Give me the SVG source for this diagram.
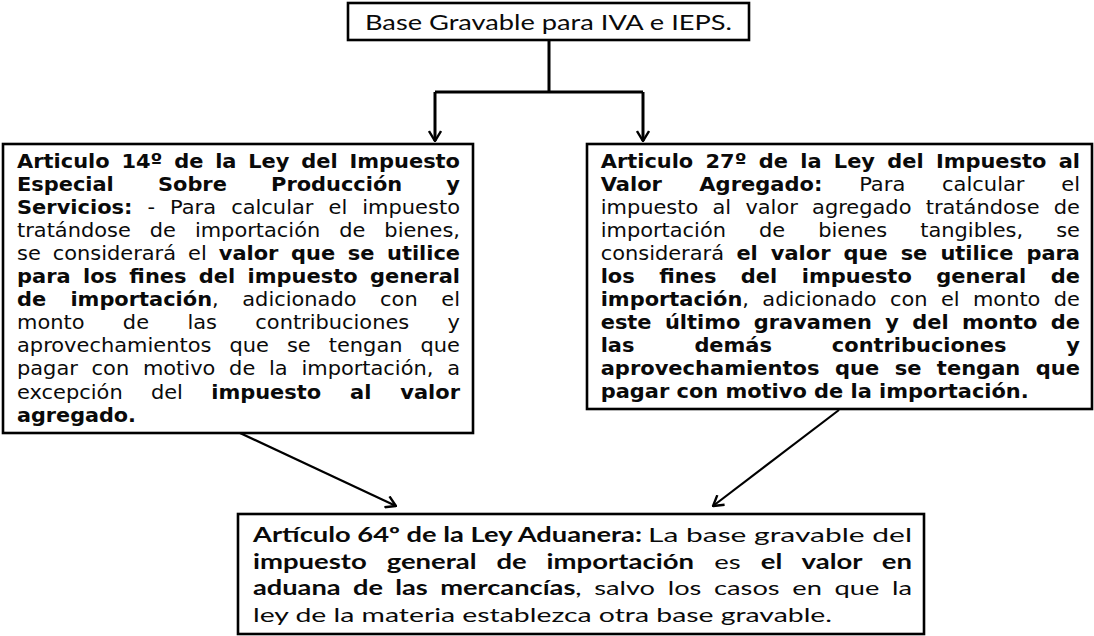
<svg xmlns="http://www.w3.org/2000/svg" width="1094" height="636" viewBox="0 0 1094 636">
<defs>
<style>
.box{fill:#fff;stroke:#000;stroke-width:2.6}
.v{font-family:"DejaVu Sans",Verdana,sans-serif;font-size:19.5px;fill:#0a0a0a}
.c{font-family:Lato,"Open Sans",sans-serif;fill:#0a0a0a}
.b{font-weight:bold}
.tree{fill:none;stroke:#000;stroke-width:3}
.diag{fill:none;stroke:#000;stroke-width:2.2}
</style>
<marker id="ah" markerUnits="userSpaceOnUse" viewBox="0 0 12 14" refX="11" refY="7" markerWidth="12" markerHeight="14" orient="auto">
<path d="M1,1 L11,7 L1,13" fill="none" stroke="#000" stroke-width="2.4"/>
</marker>
</defs>
<rect width="1094" height="636" fill="#fff"/>

<g id="connectors">
<path class="tree" d="M549,40 V92 M435,92 H643"/>
<path class="tree" d="M435,92 V141" marker-end="url(#ah)"/>
<path class="tree" d="M643,92 V141" marker-end="url(#ah)"/>
<path class="diag" d="M240,433 L396,506" marker-end="url(#ah)"/>
<path class="diag" d="M839,410 L713,506" marker-end="url(#ah)"/>
</g>

<g id="n-top">
<rect class="box" x="348" y="3" width="401" height="37"/>
<text class="c" x="365" y="29.5" font-size="21.5" textLength="367" lengthAdjust="spacingAndGlyphs">Base Gravable para IVA e IEPS.</text>
</g>

<g id="n-left">
<rect class="box" x="3" y="144" width="470" height="289"/>
<text class="v b" x="17" y="167.5" textLength="443" lengthAdjust="spacingAndGlyphs" word-spacing="4.2">Articulo 14º de la Ley del Impuesto</text>
<text class="v b" x="17" y="190.6" textLength="443" lengthAdjust="spacingAndGlyphs" word-spacing="34.4">Especial Sobre Producción y</text>
<text class="v" x="17" y="213.7" textLength="443" lengthAdjust="spacingAndGlyphs" word-spacing="7.8"><tspan class="b">Servicios:</tspan> - Para calcular el impuesto</text>
<text class="v" x="17" y="236.8" textLength="443" lengthAdjust="spacingAndGlyphs" word-spacing="11.5">tratándose de importación de bienes,</text>
<text class="v" x="17" y="259.9" textLength="443" lengthAdjust="spacingAndGlyphs" word-spacing="5">se considerará el <tspan class="b">valor que se utilice</tspan></text>
<text class="v b" x="17" y="283" textLength="443" lengthAdjust="spacingAndGlyphs" word-spacing="4.7">para los fines del impuesto general</text>
<text class="v" x="17" y="306.1" textLength="443" lengthAdjust="spacingAndGlyphs" word-spacing="15.8"><tspan class="b">de importación</tspan>, adicionado con el</text>
<text class="v" x="17" y="329.2" textLength="443" lengthAdjust="spacingAndGlyphs" word-spacing="29.6">monto de las contribuciones y</text>
<text class="v" x="17" y="352.3" textLength="443" lengthAdjust="spacingAndGlyphs" word-spacing="10.55">aprovechamientos que se tengan que</text>
<text class="v" x="17" y="375.4" textLength="443" lengthAdjust="spacingAndGlyphs" word-spacing="6.65">pagar con motivo de la importación, a</text>
<text class="v" x="17" y="398.5" textLength="443" lengthAdjust="spacingAndGlyphs" word-spacing="20.1">excepción del <tspan class="b">impuesto al valor</tspan></text>
<text class="v b" x="17" y="421.6" textLength="119" lengthAdjust="spacingAndGlyphs">agregado.</text>
</g>

<g id="n-right">
<rect class="box" x="587" y="144" width="505" height="265"/>
<text class="v b" x="600.7" y="167.5" textLength="479.3" lengthAdjust="spacingAndGlyphs" word-spacing="4.66">Articulo 27º de la Ley del Impuesto al</text>
<text class="v" x="600.7" y="190.5" textLength="479.3" lengthAdjust="spacingAndGlyphs" word-spacing="27.9"><tspan class="b">Valor Agregado:</tspan> Para calcular el</text>
<text class="v" x="600.7" y="213.6" textLength="479.3" lengthAdjust="spacingAndGlyphs" word-spacing="7.04">impuesto al valor agregado tratándose de</text>
<text class="v" x="600.7" y="236.6" textLength="479.3" lengthAdjust="spacingAndGlyphs" word-spacing="24.6">importación de bienes tangibles, se</text>
<text class="v" x="600.7" y="259.7" textLength="479.3" lengthAdjust="spacingAndGlyphs" word-spacing="5.4">considerará <tspan class="b">el valor que se utilice para</tspan></text>
<text class="v b" x="600.7" y="282.7" textLength="479.3" lengthAdjust="spacingAndGlyphs" word-spacing="16">los fines del impuesto general de</text>
<text class="v" x="600.7" y="305.8" textLength="479.3" lengthAdjust="spacingAndGlyphs" word-spacing="6.3"><tspan class="b">importación</tspan>, adicionado con el monto de</text>
<text class="v b" x="600.7" y="328.8" textLength="479.3" lengthAdjust="spacingAndGlyphs" word-spacing="5.7">este último gravamen y del monto de</text>
<text class="v b" x="600.7" y="351.9" textLength="479.3" lengthAdjust="spacingAndGlyphs" word-spacing="49.1">las demás contribuciones y</text>
<text class="v b" x="600.7" y="374.9" textLength="479.3" lengthAdjust="spacingAndGlyphs" word-spacing="7.6">aprovechamientos que se tengan que</text>
<text class="v b" x="600.7" y="398" textLength="428" lengthAdjust="spacingAndGlyphs">pagar con motivo de la importación.</text>
</g>

<g id="n-bottom">
<rect class="box" x="238" y="514" width="686" height="120"/>
<text class="c b" font-size="20" x="253" y="542" textLength="389" lengthAdjust="spacingAndGlyphs">Artículo 64º de la Ley Aduanera:</text>
<text class="c" font-size="20" x="648" y="542" textLength="264" lengthAdjust="spacingAndGlyphs">La base gravable del</text>
<text class="c" font-size="20" x="253" y="568.5" textLength="659" lengthAdjust="spacingAndGlyphs" word-spacing="9.6"><tspan class="b">impuesto general de importación</tspan> es <tspan class="b">el valor en</tspan></text>
<text class="c" font-size="20" x="253" y="595" textLength="659" lengthAdjust="spacingAndGlyphs" word-spacing="4.2"><tspan class="b">aduana de las mercancías</tspan>, salvo los casos en que la</text>
<text class="c" font-size="20" x="253" y="621.5" textLength="579" lengthAdjust="spacingAndGlyphs">ley de la materia establezca otra base gravable.</text>
</g>
</svg>
